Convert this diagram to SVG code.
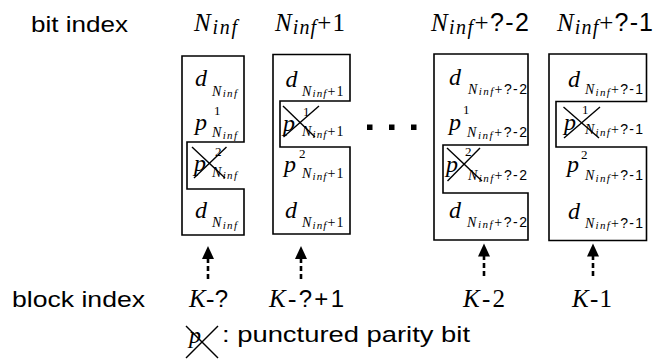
<svg xmlns="http://www.w3.org/2000/svg" width="654" height="362" viewBox="0 0 654 362">
<defs>
<style>
.bg{fill:#fff}
.box{fill:none;stroke:#000;stroke-width:1.6}
.x{stroke:#000;stroke-width:1.4}
.m{font-style:italic}
.dash{stroke:#000;stroke-width:2.6;stroke-dasharray:5 3;fill:none}
.head{fill:#000}
</style>
</defs>
<rect class="bg" width="654" height="362"/>

<g id="labels" font-family="Liberation Serif, serif" fill="#000">
<text font-family="Liberation Sans, sans-serif" font-size="22" x="31" y="32" textLength="97" lengthAdjust="spacingAndGlyphs">bit index</text>
<text font-family="Liberation Sans, sans-serif" font-size="22" x="12" y="307" textLength="133" lengthAdjust="spacingAndGlyphs">block index</text>
<text x="194" y="31" textLength="43"><tspan class="m" font-size="25">N</tspan><tspan class="m" font-size="20" dy="3">inf</tspan></text>
<text x="275" y="31" textLength="70"><tspan class="m" font-size="25">N</tspan><tspan class="m" font-size="20" dy="3">inf</tspan><tspan font-size="25" dy="-3">+1</tspan></text>
<text x="431" y="31" textLength="98"><tspan class="m" font-size="25">N</tspan><tspan class="m" font-size="20" dy="3">inf</tspan><tspan font-size="25" dy="-3">+</tspan><tspan font-family="Liberation Sans, sans-serif" font-size="25">?-2</tspan></text>
<text x="557" y="31" textLength="96"><tspan class="m" font-size="25">N</tspan><tspan class="m" font-size="20" dy="3">inf</tspan><tspan font-size="25" dy="-3">+</tspan><tspan font-family="Liberation Sans, sans-serif" font-size="25">?-1</tspan></text>
<text x="189" y="307" textLength="39"><tspan class="m" font-size="25">K</tspan><tspan font-size="25">-</tspan><tspan font-family="Liberation Sans, sans-serif" font-size="24">?</tspan></text>
<text x="269" y="307" textLength="75"><tspan class="m" font-size="25">K</tspan><tspan font-size="25">-</tspan><tspan font-family="Liberation Sans, sans-serif" font-size="24">?+1</tspan></text>
<text x="463" y="307" textLength="42"><tspan class="m" font-size="25">K</tspan><tspan font-size="25">-2</tspan></text>
<text x="572" y="307" textLength="40"><tspan class="m" font-size="25">K</tspan><tspan font-size="25">-1</tspan></text>
</g>

<g id="block1" font-family="Liberation Serif, serif" fill="#000">
<path class="box" d="M182,56 H244 V142 H187 V189 H244 V235 H182 Z"/>
<text class="m" font-size="24" x="195" y="86">d</text>
<text x="212" y="95.5" textLength="25"><tspan class="m" font-size="14">N</tspan><tspan class="m" font-size="11" dy="1.5">inf</tspan></text>
<text class="m" font-size="24" x="195" y="130">p</text>
<text font-size="13" x="214" y="115">1</text>
<text x="212" y="137" textLength="25"><tspan class="m" font-size="14">N</tspan><tspan class="m" font-size="11" dy="1.5">inf</tspan></text>
<text class="m" font-size="24" x="194" y="171">p</text>
<text font-size="13" x="215" y="156">2</text>
<text x="212" y="177" textLength="25"><tspan class="m" font-size="14">N</tspan><tspan class="m" font-size="11" dy="1.5">inf</tspan></text>
<line class="x" x1="192" y1="147" x2="225" y2="178"/>
<line class="x" x1="226.5" y1="147" x2="194" y2="178"/>
<text class="m" font-size="24" x="195" y="218">d</text>
<text x="212" y="227" textLength="25"><tspan class="m" font-size="14">N</tspan><tspan class="m" font-size="11" dy="1.5">inf</tspan></text>
</g>

<g id="block2" font-family="Liberation Serif, serif" fill="#000">
<path class="box" d="M273,54.5 H350 V101 H280 V147 H350 V234 H273 Z"/>
<text class="m" font-size="24" x="285.5" y="86.5">d</text>
<text x="302" y="95.5" textLength="41.5"><tspan class="m" font-size="14">N</tspan><tspan class="m" font-size="11" dy="1.5">inf</tspan><tspan font-size="14" dy="-1.5">+1</tspan></text>
<text class="m" font-size="24" x="283" y="131">p</text>
<text font-size="13" x="303" y="116">1</text>
<text x="302" y="136" textLength="41.5"><tspan class="m" font-size="14">N</tspan><tspan class="m" font-size="11" dy="1.5">inf</tspan><tspan font-size="14" dy="-1.5">+1</tspan></text>
<line class="x" x1="283" y1="106" x2="315" y2="137"/>
<line class="x" x1="319" y1="106" x2="283.5" y2="137"/>
<text class="m" font-size="24" x="284" y="172">p</text>
<text font-size="13" x="299" y="158">2</text>
<text x="302" y="178" textLength="41.5"><tspan class="m" font-size="14">N</tspan><tspan class="m" font-size="11" dy="1.5">inf</tspan><tspan font-size="14" dy="-1.5">+1</tspan></text>
<text class="m" font-size="24" x="285" y="218">d</text>
<text x="302" y="227" textLength="41.5"><tspan class="m" font-size="14">N</tspan><tspan class="m" font-size="11" dy="1.5">inf</tspan><tspan font-size="14" dy="-1.5">+1</tspan></text>
</g>

<g id="ellipsis">
<rect x="367" y="124.5" width="5.5" height="5.5"/>
<rect x="389" y="124.5" width="5.5" height="5.5"/>
<rect x="411" y="124.5" width="5.5" height="5.5"/>
</g>

<g id="block3" font-family="Liberation Serif, serif" fill="#000">
<path class="box" d="M434,54 H528 V145 H443 V193 H528 V240 H434 Z"/>
<text class="m" font-size="24" x="449" y="85">d</text>
<text x="468" y="93.5" textLength="59"><tspan class="m" font-size="14">N</tspan><tspan class="m" font-size="11" dy="1.5">inf</tspan><tspan font-size="14" dy="-1.5">+</tspan><tspan font-family="Liberation Sans, sans-serif" font-size="14">?-2</tspan></text>
<text class="m" font-size="24" x="449" y="130">p</text>
<text font-size="13" x="463" y="114">1</text>
<text x="467" y="137" textLength="60"><tspan class="m" font-size="14">N</tspan><tspan class="m" font-size="11" dy="1.5">inf</tspan><tspan font-size="14" dy="-1.5">+</tspan><tspan font-family="Liberation Sans, sans-serif" font-size="14">?-2</tspan></text>
<text class="m" font-size="24" x="446" y="172">p</text>
<text font-size="13" x="465" y="156">2</text>
<text x="468" y="180" textLength="59"><tspan class="m" font-size="14">N</tspan><tspan class="m" font-size="11" dy="1.5">inf</tspan><tspan font-size="14" dy="-1.5">+</tspan><tspan font-family="Liberation Sans, sans-serif" font-size="14">?-2</tspan></text>
<line class="x" x1="447" y1="148" x2="482" y2="181"/>
<line class="x" x1="480" y1="148" x2="447.5" y2="181"/>
<text class="m" font-size="24" x="449" y="218">d</text>
<text x="467" y="226.5" textLength="60"><tspan class="m" font-size="14">N</tspan><tspan class="m" font-size="11" dy="1.5">inf</tspan><tspan font-size="14" dy="-1.5">+</tspan><tspan font-family="Liberation Sans, sans-serif" font-size="14">?-2</tspan></text>
</g>

<g id="block4" font-family="Liberation Serif, serif" fill="#000">
<path class="box" d="M549,54 H646.5 V101.5 H556 V147 H646.5 V240.5 H549 Z"/>
<text class="m" font-size="24" x="568" y="86.5">d</text>
<text x="585" y="94" textLength="58"><tspan class="m" font-size="14">N</tspan><tspan class="m" font-size="11" dy="1.5">inf</tspan><tspan font-size="14" dy="-1.5">+</tspan><tspan font-family="Liberation Sans, sans-serif" font-size="14">?-1</tspan></text>
<text class="m" font-size="24" x="564" y="130">p</text>
<text font-size="13" x="582" y="114">1</text>
<text x="585" y="134" textLength="58"><tspan class="m" font-size="14">N</tspan><tspan class="m" font-size="11" dy="1.5">inf</tspan><tspan font-size="14" dy="-1.5">+</tspan><tspan font-family="Liberation Sans, sans-serif" font-size="14">?-1</tspan></text>
<line class="x" x1="563.5" y1="107" x2="599" y2="138"/>
<line class="x" x1="600" y1="107" x2="564" y2="138"/>
<text class="m" font-size="24" x="567" y="172">p</text>
<text font-size="13" x="581" y="159">2</text>
<text x="585" y="180" textLength="58"><tspan class="m" font-size="14">N</tspan><tspan class="m" font-size="11" dy="1.5">inf</tspan><tspan font-size="14" dy="-1.5">+</tspan><tspan font-family="Liberation Sans, sans-serif" font-size="14">?-1</tspan></text>
<text class="m" font-size="24" x="568" y="219">d</text>
<text x="585" y="227.5" textLength="58"><tspan class="m" font-size="14">N</tspan><tspan class="m" font-size="11" dy="1.5">inf</tspan><tspan font-size="14" dy="-1.5">+</tspan><tspan font-family="Liberation Sans, sans-serif" font-size="14">?-1</tspan></text>
</g>

<g id="connectors">
<line class="dash" x1="208" y1="258" x2="208" y2="282"/>
<polygon class="head" points="208,246 202,259 214,259"/>
<line class="dash" x1="301" y1="258" x2="301" y2="282"/>
<polygon class="head" points="301,246 295,259 307,259"/>
<line class="dash" x1="484" y1="255" x2="484" y2="279"/>
<polygon class="head" points="484,243.5 478,256.5 490,256.5"/>
<line class="dash" x1="593" y1="255" x2="593" y2="279"/>
<polygon class="head" points="593,243.5 587,256.5 599,256.5"/>
</g>

<g id="legend" font-family="Liberation Serif, serif" fill="#000">
<text class="m" font-size="24" x="189" y="343">p</text>
<line class="x" x1="186" y1="326" x2="218" y2="358"/>
<line class="x" x1="218" y1="326" x2="186" y2="358"/>
<text font-family="Liberation Sans, sans-serif" font-size="22" x="222" y="341.5" textLength="248" lengthAdjust="spacingAndGlyphs">: punctured parity bit</text>
</g>
</svg>
